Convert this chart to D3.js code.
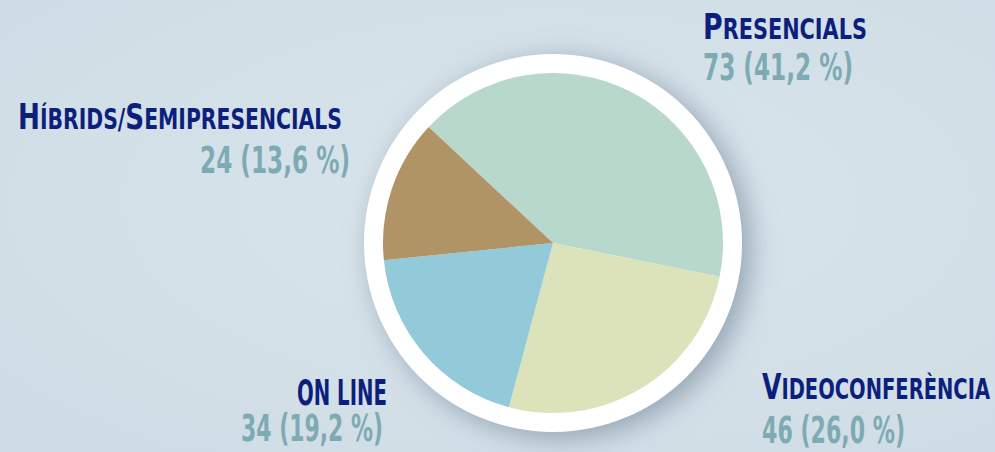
<!DOCTYPE html>
<html>
<head>
<meta charset="utf-8">
<script src="https://cdn.jsdelivr.net/npm/d3@7"></script>
<style>
  html, body { margin: 0; padding: 0; background: #d5e2ea; }
  svg { display: block; }
</style>
</head>
<body>
<svg id="chart"></svg>
<script>
// data
const categories = ['Presencials', 'Videoconferència', 'ON LINE', 'Híbrids/Semipresencials'];
const values = [73, 46, 34, 24];
const colors = ['#b8d8cc', '#dce2b9', '#93cada', '#b09466'];

// label placement (x, baseline, fitted widths) per category
const labelPos = [
  { x: 703, y: 39, w: 164, vx: 703, vy: 80, vw: 150 },
  { x: 762, y: 399, w: 228, vx: 762, vy: 443, vw: 143 },
  { x: 297, y: 405, w: 90, vx: 241, vy: 441, vw: 142 },
  { x: 18, y: 129, w: 324, vx: 200, vy: 173, vw: 150 }
];

const width = 995, height = 452;
const cx = 553, cy = 243, r = 170, ring = 19;

const svg = d3.select('#chart').attr('width', width).attr('height', height);

const defs = svg.append('defs');
const bg = defs.append('radialGradient').attr('id', 'bg').attr('cx', '55%').attr('cy', '45%').attr('r', '75%');
bg.append('stop').attr('offset', '0%').attr('stop-color', '#d9e5ec');
bg.append('stop').attr('offset', '100%').attr('stop-color', '#cfdce5');

const shadow = defs.append('filter').attr('id', 'shadow')
  .attr('x', '-40%').attr('y', '-40%').attr('width', '180%').attr('height', '180%');
shadow.append('feGaussianBlur').attr('in', 'SourceAlpha').attr('stdDeviation', 14);
shadow.append('feOffset').attr('dx', 8).attr('dy', 6).attr('result', 'blur');
shadow.append('feFlood').attr('flood-color', '#7c8ea0').attr('flood-opacity', 0.75);
shadow.append('feComposite').attr('in2', 'blur').attr('operator', 'in');
const merge = shadow.append('feMerge');
merge.append('feMergeNode');
merge.append('feMergeNode').attr('in', 'SourceGraphic');

svg.append('rect').attr('width', width).attr('height', height).attr('fill', 'url(#bg)');

const g = svg.append('g').attr('transform', `translate(${cx},${cy})`);

// white ring
g.append('circle').attr('r', r + ring).attr('fill', '#ffffff').attr('filter', 'url(#shadow)');

const total = d3.sum(values);
const data = categories.map((c, i) => ({ name: c, value: values[i], color: colors[i], pos: labelPos[i] }));

const pie = d3.pie().value(d => d.value).sort(null)
  .startAngle(-47 * Math.PI / 180)
  .endAngle((360 - 47) * Math.PI / 180);
const arc = d3.arc().innerRadius(0).outerRadius(r);

g.selectAll('path.slice')
  .data(pie(data))
  .enter()
  .append('path')
  .attr('class', 'slice')
  .attr('d', arc)
  .attr('fill', d => d.data.color);

// labels in small caps: uppercase chars big, lowercase chars small
const fontFam = "'Liberation Sans Narrow', 'DejaVu Sans Condensed', 'Roboto', sans-serif";

function runs(str) {
  const out = [];
  for (const ch of str) {
    const big = ch === ch.toUpperCase() && ch !== ch.toLowerCase() || ch === ' ' && out.length && out[out.length - 1].big;
    const last = out[out.length - 1];
    if (last && last.big === big) last.t += ch;
    else out.push({ t: ch, big: big });
  }
  return out;
}

const labels = svg.append('g');
data.forEach(d => {
  const t = labels.append('text')
    .attr('x', d.pos.x)
    .attr('y', d.pos.y)
    .attr('textLength', d.pos.w)
    .attr('lengthAdjust', 'spacingAndGlyphs')
    .attr('font-family', fontFam)
    .attr('font-weight', 'bold')
    .attr('fill', '#0d1f7c');
  runs(d.name).forEach(s => {
    t.append('tspan')
      .attr('font-size', s.big ? 36 : 28)
      .text(s.t.toUpperCase());
  });

  const pct = (d.value / total * 100).toFixed(1).replace('.', ',');
  labels.append('text')
    .attr('x', d.pos.vx)
    .attr('y', d.pos.vy)
    .attr('textLength', d.pos.vw)
    .attr('lengthAdjust', 'spacingAndGlyphs')
    .attr('font-family', fontFam)
    .attr('font-weight', 'bold')
    .attr('font-size', 37)
    .attr('fill', '#7eaab4')
    .text(`${d.value} (${pct} %)`);
});
</script>
</body>
</html>
